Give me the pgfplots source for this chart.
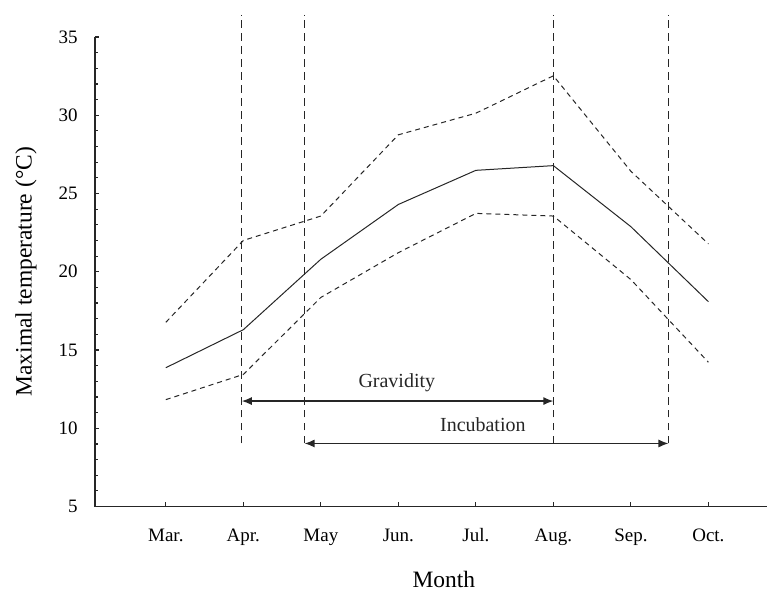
\documentclass[border=0pt]{standalone}
\usepackage{fontspec}
\setmainfont{Liberation Serif}
\usepackage{pgfplots}
\pgfplotsset{compat=1.18}
\usetikzlibrary{arrows.meta}
\begin{document}
\begin{tikzpicture}
\begin{axis}[
  name=ax,
  scale only axis,
  width=336.5pt, height=235pt,
  xmin=0.085, xmax=8.76,
  ymin=5, ymax=35,
  axis x line=bottom, axis y line=left,
  axis line style={-, line width=0.7pt, black!85},
  xtick={1,...,8},
  xticklabels={Mar.,Apr.,May,Jun.,Jul.,Aug.,Sep.,Oct.},
  ytick={5,10,...,35},
  minor y tick num=4,
  tick align=inside,
  major tick length=2.2pt, minor tick length=1.6pt,
  tick style={line width=0.6pt, black!85},
  /pgf/number format/assume math mode=true,
  tick label style={font=\fontsize{9.5}{11}\selectfont},
  xticklabel style={anchor=base, yshift=-17.5pt},
  yticklabel style={anchor=east, inner sep=0pt, xshift=-8.5pt},
  xlabel={Month}, ylabel={Maximal temperature (°C)},
  label style={font=\fontsize{11.75}{14}\selectfont},
  xlabel style={at={(axis description cs:0.519,-0.172)}, anchor=base},
  ylabel style={at={(axis description cs:-0.094,0.5)}, anchor=base},
  clip=false,
]
% mean maximal temperature
\addplot[black!85, line width=0.5pt] coordinates {(1,13.87)(2,16.3)(3,20.8)(4,24.3)(5,26.48)(6,26.78)(7,22.88)(8,18.09)};
% upper bound
\addplot[black!85, line width=0.5pt, dash pattern=on 2.5pt off 2pt] coordinates {(1,16.77)(2,22.0)(3,23.56)(4,28.75)(5,30.13)(6,32.52)(7,26.42)(8,21.78)};
% lower bound
\addplot[black!85, line width=0.5pt, dash pattern=on 2.5pt off 2pt] coordinates {(1,11.83)(2,13.44)(3,18.36)(4,21.22)(5,23.73)(6,23.56)(7,19.5)(8,14.22)};
% vertical period markers
\addplot[black!85, line width=0.65pt, dash pattern=on 3.7pt off 2.8pt] coordinates {(1.98,9.03)(1.98,36.42)};
\addplot[black!85, line width=0.65pt, dash pattern=on 3.7pt off 2.8pt] coordinates {(2.79,9.03)(2.79,36.42)};
\addplot[black!85, line width=0.65pt, dash pattern=on 3.7pt off 2.8pt] coordinates {(6.0,9.03)(6.0,36.42)};
\addplot[black!85, line width=0.65pt, dash pattern=on 3.7pt off 2.8pt] coordinates {(7.485,9.03)(7.485,36.42)};
% arrows
\addplot[black!85, line width=0.65pt, {Latex[length=5pt,width=4pt]}-{Latex[length=5pt,width=4pt]}] coordinates {(1.98,11.74)(6.0,11.74)};
\addplot[black!85, line width=0.65pt, {Latex[length=5pt,width=4pt]}-{Latex[length=5pt,width=4pt]}] coordinates {(2.79,9.03)(7.485,9.03)};
\node[font=\fontsize{10}{12}\selectfont, anchor=base, text=black!85] at (axis cs:3.98,12.63) {Gravidity};
\node[font=\fontsize{10}{12}\selectfont, anchor=base, text=black!85] at (axis cs:5.09,9.77) {Incubation};
\end{axis}
\path ([shift={(-47.5pt,-42.5pt)}]ax.south west) rectangle ([shift={(336.5pt,253.5pt)}]ax.south west);
\end{tikzpicture}
\end{document}
